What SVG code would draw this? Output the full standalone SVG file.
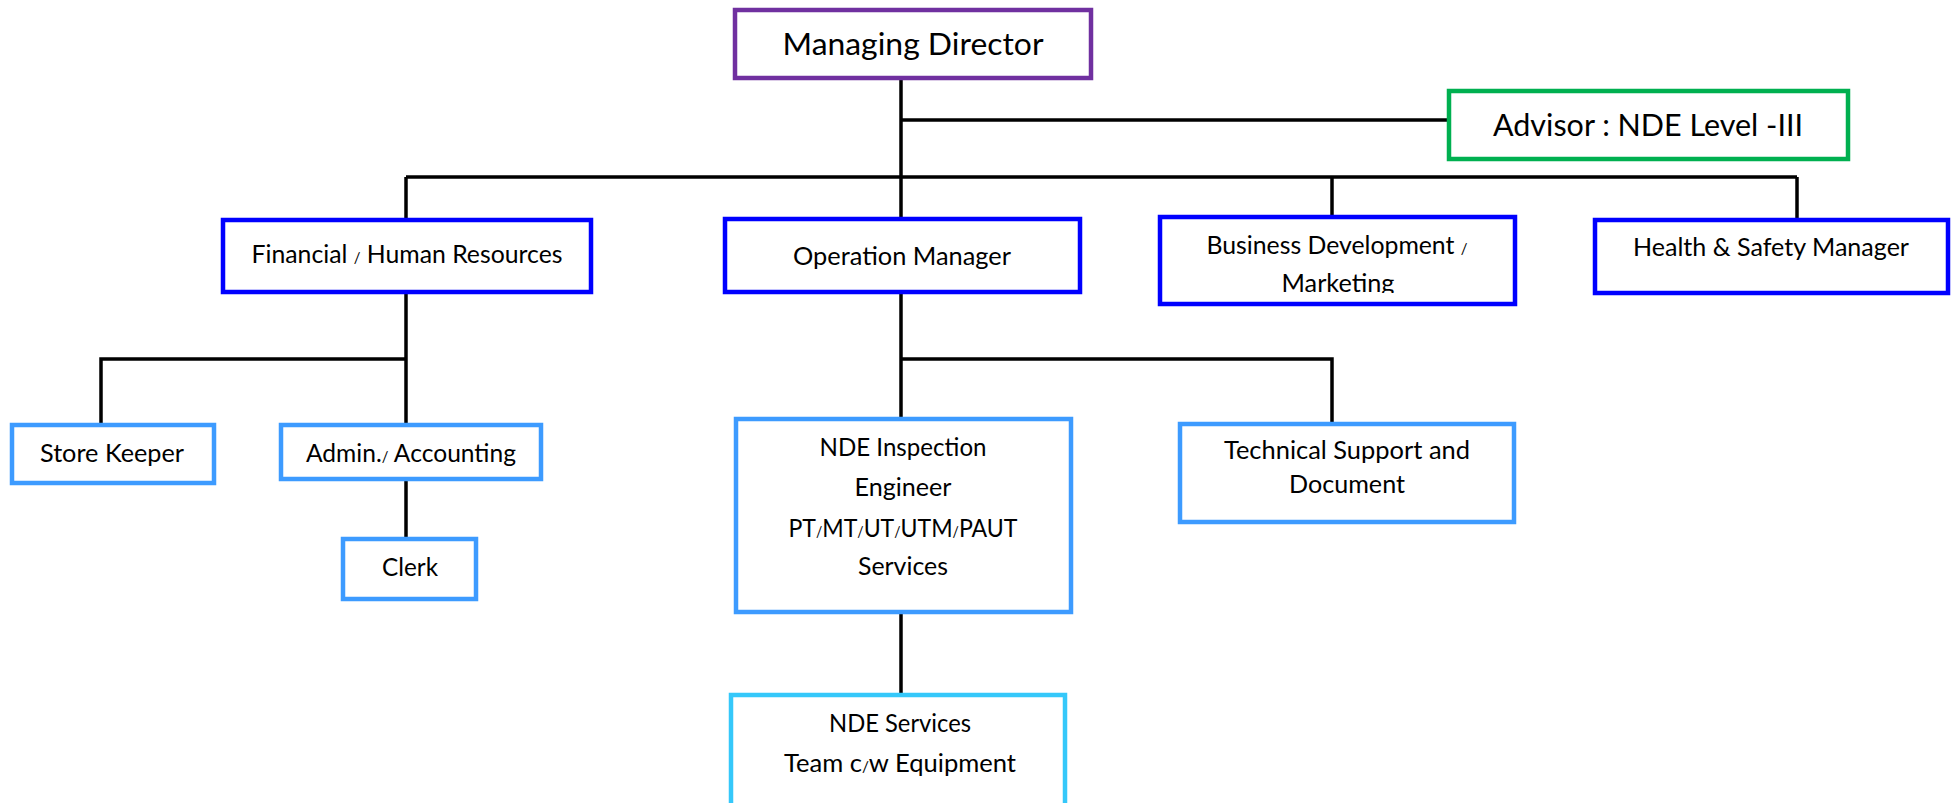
<svg xmlns="http://www.w3.org/2000/svg" width="1959" height="803" viewBox="0 0 1959 803">
<style>
  .box { fill: #ffffff; }
  .purple { stroke: #7030A0; stroke-width: 4.5; }
  .green { stroke: #00B050; stroke-width: 4.5; }
  .dark { stroke: #0000FF; stroke-width: 4.5; }
  .light { stroke: #3D9BFF; stroke-width: 4.5; }
  .cyan { stroke: #35C8FA; stroke-width: 4.5; }
  text { font-family: Lato, "Liberation Sans", sans-serif; fill: #000000; text-anchor: middle; }
  .big { font-size: 31.5px; }
  .t { font-size: 25px; }
  .s { font-size: 15px; }
  .conn { fill: none; stroke: #000000; stroke-width: 3.5; }
</style>
<defs>
  <clipPath id="bdclip"><rect x="1160" y="217" width="355" height="76"/></clipPath>
</defs>
<rect width="1959" height="803" fill="#ffffff"/>
<g id="connectors">
  <path class="conn" d="M901 80 V219"/>
  <path class="conn" d="M901 120 H1449"/>
  <path class="conn" d="M406 177 H1797"/>
  <path class="conn" d="M406 177 V220"/>
  <path class="conn" d="M1332 177 V217"/>
  <path class="conn" d="M1797 177 V220"/>
  <path class="conn" d="M406 294 V425"/>
  <path class="conn" d="M406 359 H101 V425"/>
  <path class="conn" d="M406 481 V539"/>
  <path class="conn" d="M901 294 V419"/>
  <path class="conn" d="M901 359 H1332 V424"/>
  <path class="conn" d="M901 614 V695"/>
</g>
<g id="managing-director">
  <rect class="box purple" x="735" y="10" width="356" height="68"/>
  <text class="big" x="913" y="55" textLength="261" lengthAdjust="spacingAndGlyphs">Managing Director</text>
</g>
<g id="advisor">
  <rect class="box green" x="1449" y="91" width="399" height="68"/>
  <text class="big" x="1648" y="136" textLength="310" lengthAdjust="spacingAndGlyphs">Advisor : NDE Level -III</text>
</g>
<g id="financial-hr">
  <rect class="box dark" x="223" y="220" width="368" height="72"/>
  <text class="t" x="407" y="263" textLength="311" lengthAdjust="spacingAndGlyphs">Financial <tspan class="s">/</tspan> Human Resources</text>
</g>
<g id="operation-manager">
  <rect class="box dark" x="725" y="219" width="355" height="73"/>
  <text class="t" x="902" y="265" textLength="218" lengthAdjust="spacingAndGlyphs">Operation Manager</text>
</g>
<g id="business-development">
  <rect class="box dark" x="1160" y="217" width="355" height="87"/>
  <g clip-path="url(#bdclip)">
    <text class="t" x="1337" y="254" textLength="261" lengthAdjust="spacingAndGlyphs">Business Development <tspan class="s">/</tspan></text>
    <text class="t" x="1338" y="292" textLength="113" lengthAdjust="spacingAndGlyphs">Marketing</text>
  </g>
</g>
<g id="health-safety">
  <rect class="box dark" x="1595" y="220" width="353" height="73"/>
  <text class="t" x="1771" y="256" textLength="276" lengthAdjust="spacingAndGlyphs">Health &amp; Safety Manager</text>
</g>
<g id="store-keeper">
  <rect class="box light" x="12" y="425" width="202" height="58"/>
  <text class="t" x="112" y="462" textLength="144" lengthAdjust="spacingAndGlyphs">Store Keeper</text>
</g>
<g id="admin-accounting">
  <rect class="box light" x="281" y="425" width="260" height="54"/>
  <text class="t" x="411" y="462" textLength="210" lengthAdjust="spacingAndGlyphs">Admin.<tspan class="s">/</tspan> Accounting</text>
</g>
<g id="clerk">
  <rect class="box light" x="343" y="539" width="133" height="60"/>
  <text class="t" x="410" y="576" textLength="56" lengthAdjust="spacingAndGlyphs">Clerk</text>
</g>
<g id="nde-inspection">
  <rect class="box light" x="736" y="419" width="335" height="193"/>
  <text class="t" x="903" y="456" textLength="167" lengthAdjust="spacingAndGlyphs">NDE Inspection</text>
  <text class="t" x="903" y="496" textLength="97" lengthAdjust="spacingAndGlyphs">Engineer</text>
  <text class="t" x="903" y="537" textLength="229" lengthAdjust="spacingAndGlyphs">PT<tspan class="s">/</tspan>MT<tspan class="s">/</tspan>UT<tspan class="s">/</tspan>UTM<tspan class="s">/</tspan>PAUT</text>
  <text class="t" x="903" y="575" textLength="90" lengthAdjust="spacingAndGlyphs">Services</text>
</g>
<g id="technical-support">
  <rect class="box light" x="1180" y="424" width="334" height="98"/>
  <text class="t" x="1347" y="459" textLength="246" lengthAdjust="spacingAndGlyphs">Technical Support and</text>
  <text class="t" x="1347" y="493" textLength="116" lengthAdjust="spacingAndGlyphs">Document</text>
</g>
<g id="nde-services">
  <rect class="box cyan" x="731" y="695" width="334" height="130"/>
  <text class="t" x="900" y="732" textLength="142" lengthAdjust="spacingAndGlyphs">NDE Services</text>
  <text class="t" x="900" y="772" textLength="232" lengthAdjust="spacingAndGlyphs">Team c<tspan class="s">/</tspan>w Equipment</text>
</g>
</svg>
